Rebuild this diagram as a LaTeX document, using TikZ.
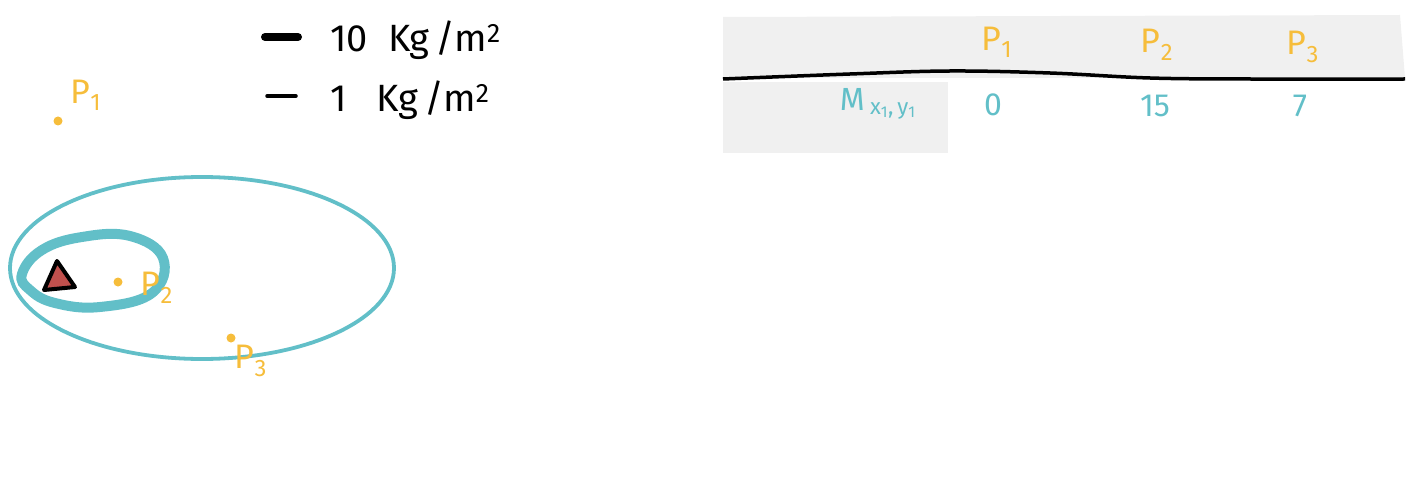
\documentclass[tikz,border=0pt]{standalone}
\usepackage{fontspec}
\setmainfont{Fira Sans}
\definecolor{orng}{HTML}{F6BD3B}
\definecolor{teal2}{HTML}{62BFC8}
\definecolor{redtri}{HTML}{C0504D}
\definecolor{cellgray}{HTML}{F0F0F0}
\newcommand{\mysub}[1]{\textsubscript{#1}}
\begin{document}
\begin{tikzpicture}[x=1pt,y=-1pt,
  dotp/.style={circle,fill=orng,inner sep=0pt,minimum size=9pt},
  plab/.style={text=orng,font=\fontsize{34}{40}\selectfont,inner sep=0pt},
  leg/.style={font=\fontsize{38}{44}\selectfont,inner sep=0pt,anchor=west},
  val/.style={text=teal2,font=\fontsize{32}{36}\selectfont,inner sep=0pt}]
\useasboundingbox (0,0) rectangle (1416,481);
% legend
\coordinate (l1a) at (265,37); \coordinate (l1b) at (298,37);
\coordinate (l2a) at (267,96); \coordinate (l2b) at (296,96);
\draw[line width=8pt,line cap=round] (l1a) -- (l1b);
\draw[line width=3.5pt,line cap=round] (l2a) -- (l2b);
\node[leg] (t1) at (330,40) {10 \ Kg\,/m\textsuperscript{2}};
\node[leg] (t2) at (330,100) {1 \ \ Kg\,/m\textsuperscript{2}};
% orbits
\draw[teal2,line width=3.8pt] (202,268) ellipse [x radius=192,y radius=91];
\draw[teal2,line width=10pt] plot[smooth cycle,tension=0.7] coordinates
 {(22,274) (42,250) (82,237) (130,236) (163,258) (152,293) (100,307) (55,303) (30,290)};
% triangle
\node[coordinate] (ta) at (57,261) {};
\node[coordinate] (tb) at (44,290) {};
\node[coordinate] (tc) at (75,287) {};
\draw[fill=redtri,line width=4pt,line join=round] (ta) -- (tb) -- (tc) -- cycle;
% points
\node[dotp] (p1) at (58,121) {};
\node[plab] (p1l) at (86,95) {P\mysub{1}};
\node[dotp] (p2) at (118,282) {};
\node[plab] (p2l) at (157,288) {P\mysub{2}};
\node[dotp] (p3) at (231,338) {};
\node[plab] (p3l) at (251,361) {P\mysub{3}};
% table
\fill[cellgray] (723,17) -- (1400,15) -- (1405,78) -- (723,78) -- cycle;
\fill[cellgray] (723,82) rectangle (948,153);
\draw[line width=3.5pt] plot[smooth,tension=0.6] coordinates
 {(723,79) (850,74) (950,71) (1050,73) (1150,78) (1250,79) (1405,79)};
\node[plab] (h1) at (997,42) {P\mysub{1}};
\node[plab] (h2) at (1157,45) {P\mysub{2}};
\node[plab] (h3) at (1303,47) {P\mysub{3}};
\node[val] (m) at (878,104) {M\,\mysub{x\mysub{1},\,y\mysub{1}}};
\node[val] (v1) at (993,105) {0};
\node[val] (v2) at (1155,106) {15};
\node[val] (v3) at (1300,106) {7};
\end{tikzpicture}
\end{document}
